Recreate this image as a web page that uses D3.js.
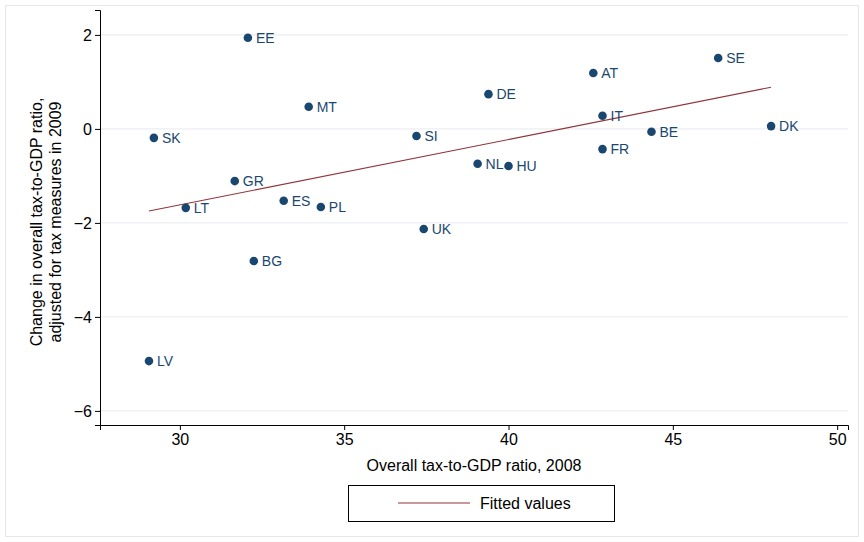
<!DOCTYPE html>
<html><head><meta charset="utf-8">
<script src="https://cdn.jsdelivr.net/npm/d3@7"></script>
<style>body{margin:0;background:#fff}text{font-family:"Liberation Sans",Arial,sans-serif}</style>
</head><body><svg id="c" width="864" height="542"></svg>
<script>
const countries = ["EE","MT","SK","SI","DE","AT","SE","IT","DK","BE","FR","NL","HU","GR","ES","PL","LT","UK","BG","LV"];
const taxRatio = [32.07,33.92,29.21,37.2,39.39,42.58,46.38,42.86,47.99,44.35,42.86,39.06,40.0,31.67,33.16,34.29,30.18,37.42,32.25,29.06];
const change = [1.94,0.47,-0.19,-0.15,0.74,1.19,1.51,0.28,0.06,-0.06,-0.43,-0.74,-0.79,-1.11,-1.53,-1.66,-1.68,-2.13,-2.81,-4.94];
const xTicks = [30,35,40,45,50];
const yTicks = [2,0,-2,-4,-6];

const svg = d3.select("#c");
svg.append("rect").attr("x",5.5).attr("y",5.5).attr("width",853).attr("height",531)
  .attr("fill","#fff").attr("stroke","#e8e8e8");

const x = d3.scaleLinear().domain([27.57,50.33]).range([100,848]);
const y = d3.scaleLinear().domain([-6.3,2.53]).range([425,10]);

// grid
svg.append("g").selectAll("line").data(yTicks).join("line")
  .attr("x1",100).attr("x2",848).attr("y1",d=>y(d)).attr("y2",d=>y(d))
  .attr("stroke","#e6eaee").attr("stroke-width",1);

const xa = svg.append("g").attr("transform","translate(0,425)")
  .call(d3.axisBottom(x).tickValues(xTicks).tickSize(5).tickPadding(4));
const ya = svg.append("g").attr("transform","translate(100,0)")
  .call(d3.axisLeft(y).tickValues(yTicks).tickSize(5).tickPadding(4));
[xa,ya].forEach(a=>{a.selectAll("text").attr("font-size",16).attr("fill","#000")
  .style("font-family","Liberation Sans, Arial, sans-serif");
  a.selectAll("line,path").attr("stroke","#000");});
ya.selectAll(".tick text").attr("text-anchor","end").attr("x",-8).attr("dy","0.35em");

// fitted values (OLS)
const mx = d3.mean(taxRatio), my = d3.mean(change);
const b = d3.sum(taxRatio,(v,i)=>(v-mx)*(change[i]-my))/d3.sum(taxRatio,v=>(v-mx)*(v-mx));
const a = my - b*mx;
const ext = d3.extent(taxRatio);
svg.append("line").attr("x1",x(ext[0])).attr("x2",x(ext[1]))
  .attr("y1",y(a+b*ext[0])).attr("y2",y(a+b*ext[1]))
  .attr("stroke","#90353b").attr("stroke-width",1.1);

const pts = svg.append("g").selectAll("g").data(countries).join("g")
  .attr("transform",(d,i)=>`translate(${x(taxRatio[i])},${y(change[i])})`);
pts.append("circle").attr("r",4.3).attr("fill","#1a476f");
pts.append("text").attr("x",8).attr("dy","0.36em").attr("font-size",14)
  .attr("fill","#1a476f").text(d=>d);

svg.append("text").attr("x",474).attr("y",471).attr("text-anchor","middle")
  .attr("font-size",16).text("Overall tax-to-GDP ratio, 2008");
const yl = svg.append("text").attr("transform","translate(42,222) rotate(-90)")
  .attr("text-anchor","middle").attr("font-size",16);
yl.append("tspan").attr("x",0).attr("dy",0).text("Change in overall tax-to-GDP ratio,");
yl.append("tspan").attr("x",0).attr("dy",19).text("adjusted for tax measures in 2009");

// legend
svg.append("rect").attr("x",348.5).attr("y",485.5).attr("width",266).attr("height",36)
  .attr("fill","#fff").attr("stroke","#000");
svg.append("line").attr("x1",398).attr("x2",470).attr("y1",503).attr("y2",503)
  .attr("stroke","#90353b").attr("stroke-width",1.1);
svg.append("text").attr("x",480).attr("y",509).attr("font-size",16).text("Fitted values");
</script></body></html>
